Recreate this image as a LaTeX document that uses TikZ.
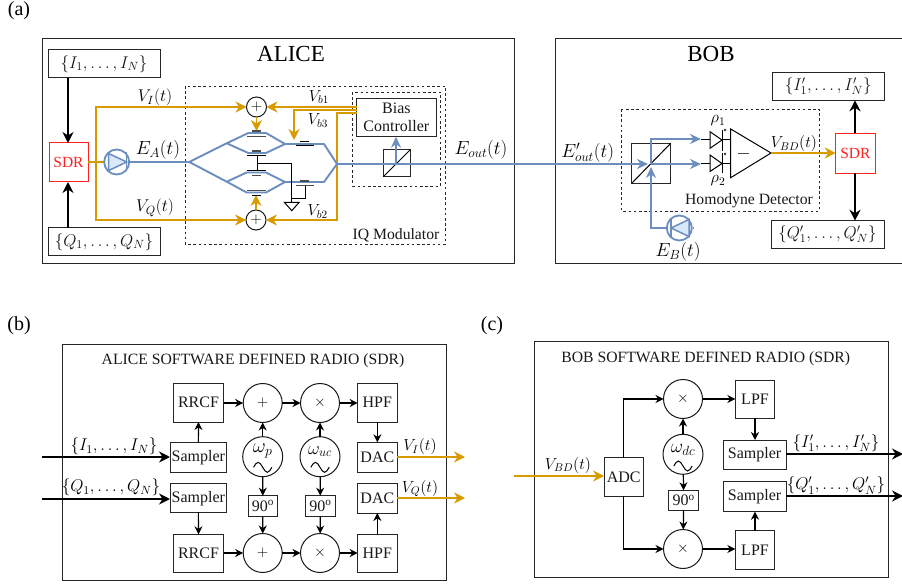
\documentclass[tikz,border=0pt]{standalone}
\usepackage{fix-cm}
\usepackage[no-math]{fontspec}
\setmainfont{Liberation Serif}
\usetikzlibrary{arrows.meta,calc}
\definecolor{org}{HTML}{D79B00}
\definecolor{blu}{HTML}{6C8EBF}
\definecolor{blufill}{HTML}{DAE8FC}
\definecolor{redc}{HTML}{FF2020}
\newcommand\fs[1]{\fontsize{#1}{#1}\selectfont}
\newcommand\boxn[7][]{%
  \pgfmathsetmacro\bxw{#5-#3}\pgfmathsetmacro\bxh{#6-#4}%
  \pgfmathsetmacro\bxx{(#3+#5)/2}\pgfmathsetmacro\bxy{(#4+#6)/2}%
  \node[bxs,minimum width=\bxw pt,minimum height=\bxh pt,#1] (#2) at (\bxx,\bxy) {#7};%
}
\newcommand\sinew[2]{\draw[thin1] (#1-9.2,#2) sin ++(4.6,-5) cos ++(4.6,5) sin ++(4.6,5) cos ++(4.6,-5);}
\newcommand\laserd[3]{% centre x, y, direction (1 right, -1 left)
  \fill[blufill] (#1-8*#3,#2-8.5) -- (#1+10*#3,#2) -- (#1-8*#3,#2+8.5) -- cycle;
  \draw[blu,line width=1.5] (#1-8*#3,#2-8.5) -- (#1+10*#3,#2) -- (#1-8*#3,#2+8.5) -- cycle;
  \draw[blu,line width=1.5] (#1+10*#3,#2-9.5) -- (#1+10*#3,#2+9.5);
}
\tikzset{
  x=1pt,y=-1pt,
  bxs/.style={draw=black!85,line width=1,inner sep=0,outer sep=0,fill=white,text=black!90,font=\fs{16},align=center},
  circ/.style={circle,draw=black!90,line width=1,inner sep=0,outer sep=0,fill=white,font=\fs{15}},
  lab/.style={inner sep=0,outer sep=0,text=black},
  dsh/.style={draw=black!85,line width=.9,dash pattern=on 2.6pt off 2.6pt},
  thin1/.style={draw=black,line width=1},
  arr/.style={draw=black,line width=1.2,-{Stealth[length=8pt,width=8pt]}},
  arrk/.style={draw=black,line width=2,-{Stealth[length=11pt,width=11pt]}},
  oline/.style={draw=org,line width=1.9},
  oarr/.style={oline,-{Stealth[length=11pt,width=11pt]}},
  bline/.style={draw=blu,line width=1.9},
  barr/.style={bline,-{Stealth[length=11pt,width=10pt]}},
  elec/.style={draw=black!70,line width=1.2},
  sdrn/.style={bxs,draw=redc,text=redc,font=\fs{15.5}},
}
\begin{document}
\begin{tikzpicture}
\useasboundingbox (0,0) rectangle (902,585);
\node[lab,font=\fs{20}] (la) at (19,11) {(a)};
\node[lab,font=\fs{20}] (lb) at (19,326) {(b)};
\node[lab,font=\fs{20}] (lc) at (492,326) {(c)};
% ---------- ALICE
\boxn[]{alice}{42}{39}{514}{264}{}
\node[lab,font=\fs{23}] (alicet) at (291,54) {ALICE};
\draw[black!85,line width=1] (903,39) -- (555,39) -- (555,264) -- (903,264);
\coordinate (bobbox) at (555,39);
\node[lab,font=\fs{23}] (bobt) at (711,54) {BOB};
\draw[dsh] (185,86) rectangle (445.7,244);
\draw[dsh] (352.7,92) rectangle (440.7,186);
\node[lab,font=\fs{15.7},text=black!90] (iqt) at (396,235.7) {IQ Modulator};
\boxn{ibox}{48}{50}{160}{78}{\fs{17}$\{I_1,\ldots,I_N\}$}
\boxn{qbox}{48}{228}{160}{256}{\fs{17}$\{Q_1,\ldots,Q_N\}$}
\boxn[sdrn]{sdra}{49}{143}{88}{182}{SDR}
\draw[arrk] (68,78) -- (68,143);
\draw[arrk] (68,228) -- (68,182);
\boxn{bias}{356.7}{98.3}{436}{136.7}{Bias\\[2pt]Controller}
\node[circ,minimum size=20pt] (pu) at (256.5,107) {$+$};
\node[circ,minimum size=20pt] (pd) at (256,220) {$+$};
% orange lines
\coordinate (oj) at (96,162);
\draw[oline] (sdra.east |- oj) -- (102.7,162);
\draw[oarr] (oj) |- (pu.west);
\draw[oarr] (oj) |- (pd.west);
\draw[oarr] (pu.south) -- (256.5,131);
\draw[oarr] (pd.north) -- (256,195);
\coordinate (bb1) at (356.7,107);
\coordinate (bb3) at (356.7,110);
\coordinate (bb2) at (356.7,113);
\coordinate (b3t) at (294,140);
\draw[oarr] (bb1) -- (pu.east);
\draw[oarr] (bb3) -- (294,110) -- (b3t);
\draw[oarr] (bb2) -- (337,113) |- (pd.east);
% waveguides
\coordinate (wl) at (189.3,162);
\coordinate (ws1) at (226.7,143.3);
\coordinate (ws2) at (226.7,181.7);
\coordinate (wm1) at (285,144);
\coordinate (wm2) at (285,182);
\coordinate (wr) at (337,164);
\draw[bline,line join=round] (wl) -- (ws1) -- (248.3,133) -- (266,133) -- (wm1) -- (266,153) -- (248.3,153) -- (ws1);
\draw[bline,line join=round] (wl) -- (ws2) -- (246.7,172.5) -- (266,172.5) -- (wm2) -- (266,192.5) -- (246.7,192.5) -- (ws2);
\draw[bline,line join=round] (wm1) -- (324,144) -- (wr) -- (324,182) -- (wm2);
% electrodes
\draw[elec,line width=1.4] (247,136.5) -- (266,136.5);
\draw[elec] (252,131) -- (261,131);
\draw[elec] (252,151) -- (261,151);
\draw[thin1] (247,156) -- (266,156);
\draw[thin1] (247,171) -- (266,171);
\draw[elec] (252,175.7) -- (261,175.7);
\draw[elec,line width=1.4] (247,190.5) -- (266,190.5);
\draw[thin1] (252,195.5) -- (261,195.5);
\draw[thin1] (300,141.5) -- (309,141.5);
\draw[thin1] (295.7,146) -- (314,146);
\draw[elec] (300,181) -- (309,181);
\draw[elec] (295.7,185.7) -- (314,185.7);
\coordinate (gnd) at (291.8,202.3);
\draw[thin1] (257,156) -- (257,171);
\draw[thin1] (257,164) -- (291.8,164) -- (gnd);
\draw[thin1] (305,185.7) -- (305,198.3) -- (291.8,198.3);
\draw[thin1,fill=white] (284.3,202.3) -- (299.2,202.3) -- (291.8,210.7) -- cycle;
% PBS alice
\boxn[fill=none]{pbsa}{383.3}{150}{410}{176.7}{}
\draw[thin1] (pbsa.south west) -- (pbsa.north east);
\coordinate (aout) at (396,164);
\draw[barr] (aout) -- (bias.south -| aout);
% lasers
\node[circle,draw=blu,line width=1.8,minimum size=25pt,inner sep=0] (lasa) at (116.7,162) {};
\laserd{116.7}{162}{1}
\draw[bline] (102.7,162) -- (lasa.west);
\draw[bline] (lasa.east) -- (wl);
\node[lab,font=\fs{17}] (vi) at (155,97.7) {$V_I(t)$};
\node[lab,font=\fs{17}] (vq) at (155,207.7) {$V_Q(t)$};
\node[lab,font=\fs{19}] (ea) at (158,150) {$E_A(t)$};
\node[lab,font=\fs{16}] (vb1) at (319,97.3) {$V_{b1}$};
\node[lab,font=\fs{16}] (vb3) at (318,120.7) {$V_{b3}$};
\node[lab,font=\fs{16}] (vb2) at (317.7,211.7) {$V_{b2}$};
\node[lab,font=\fs{19}] (eo) at (481,150) {$E_{out}(t)$};
% ---------- BOB
\draw[dsh] (621.3,109) rectangle (819.3,211);
\boxn[fill=none]{pbsb}{631.7}{143.3}{670.7}{183.3}{}
\draw[thin1] (pbsb.south west) -- (pbsb.north east);
\coordinate (bsc) at (651,164);
\draw[bline,shorten >=3pt,-{Stealth[length=11pt,width=10pt]}] (wr) -- (bsc);
\coordinate (d1i) at (701,139);
\coordinate (d2i) at (701,164);
\draw[barr] (bsc) -- (d2i);
\draw[barr] (bsc) |- (d1i);
\node[circle,draw=blu,line width=1.8,minimum size=25pt,inner sep=0] (lasb) at (679.3,228) {};
\laserd{681}{228}{-1}
\draw[bline] (lasb.east) -- ++(1.5,0);
\draw[bline,-{Stealth[length=11pt,width=10pt]}] (lasb.west) -| ($(bsc)+(0,3)$);
% detector
\draw[thin1] (701,140) -- (710,140);
\draw[thin1] (701,163.5) -- (710,163.5);
\draw[thin1] (710,131.7) -- (710,148.3) -- (722,140) -- cycle;
\draw[thin1] (710,155) -- (710,171.5) -- (722,163.5) -- cycle;
\draw[thin1,line width=1.2] (722.3,130) -- (722.3,150.7);
\draw[thin1,line width=1.2] (722.3,153) -- (722.3,173);
\draw[thin1] (722.3,140) -- (730.7,140);
\draw[thin1] (722.3,163.5) -- (730.7,163.5);
\fill[black!80] (725,128.5) -- (726.3,130) -- (725,131.5) -- (723.7,130) -- cycle;
\fill[black!80] (725,152.5) -- (726.3,154) -- (725,155.5) -- (723.7,154) -- cycle;
\draw[thin1,line join=miter] (730.7,129) -- (730.7,177.7) -- (771,153) -- cycle;
\coordinate (ampo) at (771,153);
\draw[black!70,line width=1] (738,153.3) -- (749,153.3);
\boxn[sdrn]{sdrb}{835.7}{133.3}{875}{173.3}{SDR}
\draw[oarr] (ampo) -- (sdrb.west |- ampo);
\boxn{ipb}{772.3}{72.7}{884}{100.3}{\fs{17}$\{I'_1,\ldots,I'_N\}$}
\boxn{qpb}{771}{220.7}{884}{248.3}{\fs{17}$\{Q'_1,\ldots,Q'_N\}$}
\draw[arrk] (855,133.3) -- (855,100.3);
\draw[arrk] (855,173.3) -- (855,220.7);
\node[lab,font=\fs{16.5}] (r1) at (718,121) {$\rho_1$};
\node[lab,font=\fs{16.5}] (r2) at (718,181) {$\rho_2$};
\node[lab,font=\fs{19}] (eob) at (587.7,152.3) {$E'_{out}(t)$};
\node[lab,font=\fs{19}] (eb) at (678,251.7) {$E_B(t)$};
\node[lab,font=\fs{15.7},text=black!90] (hd) at (749,201) {Homodyne Detector};
\node[lab,font=\fs{16}] (vbd) at (794,144) {$V_{BD}(t)$};
% ---------- (b)
\boxn{asdr}{62}{344.3}{446}{580}{}
\node[lab,font=\fs{15.7},text=black!90] (asdrt) at (253,360.7) {ALICE SOFTWARE DEFINED RADIO (SDR)};
\boxn{rt}{173.3}{383.3}{223.7}{422}{RRCF}
\boxn{rb}{173.3}{534.3}{223.7}{572.7}{RRCF}
\boxn{hpft}{357.7}{383.3}{397}{422}{HPF}
\boxn{hpfb}{357.7}{534.3}{397}{572.7}{HPF}
\boxn{st}{170}{442.3}{226.7}{472.3}{Sampler}
\boxn{sb}{170}{483.7}{226.7}{512.7}{Sampler}
\boxn{dact}{357.7}{442.3}{397}{472.3}{DAC}
\boxn{dacb}{357.7}{483.7}{397}{513}{DAC}
\boxn{n1}{248.3}{495.7}{277.3}{516.7}{90\textsuperscript{o}}
\boxn{n2}{305.7}{495.7}{335}{516.7}{90\textsuperscript{o}}
\node[circ,minimum size=39pt] (pt) at (262.7,403) {$+$};
\node[circ,minimum size=39pt] (xt) at (320,403) {$\times$};
\node[circ,minimum size=39pt] (pb) at (262.7,553) {$+$};
\node[circ,minimum size=39pt] (xb) at (320,553) {$\times$};
\node[circ,minimum size=40pt] (op) at (262.7,456.7) {};
\node[circ,minimum size=40pt] (ou) at (320,456.7) {};
\node[lab,font=\fs{20}] (opt) at (262.7,451) {$\omega_p$};
\node[lab,font=\fs{18}] (out) at (320,451.5) {$\omega_{uc}$};
\sinew{262.7}{467.3}
\sinew{320}{467.3}
\draw[arr,line width=1.7] (rt.east |- pt) -- (pt);
\draw[arr,line width=1.7] (pt) -- (xt);
\draw[arr] (xt) -- (hpft.west |- xt);
\draw[arr] (rb.east |- pb) -- (pb);
\draw[arr] (pb) -- (xb);
\draw[arr] (xb) -- (hpfb.west |- xb);
\draw[arr] (st.north) -- (rt.south);
\draw[arr] (sb.south) -- (rb.north);
\draw[arr] (hpft.south) -- (dact.north);
\draw[arr] (hpfb.north) -- (dacb.south);
\draw[arr] (op) -- (pt);
\draw[arr] (ou) -- (xt);
\draw[arr] (op) -- (n1);
\draw[arr] (ou) -- (n2);
\draw[arr] (n1) -- (pb);
\draw[arr] (n2) -- (xb);
\coordinate (ain1) at (42,457);
\coordinate (ain2) at (42,499);
\draw[arrk] (ain1) -- (st.west |- ain1);
\draw[arrk] (ain2) -- (sb.west |- ain2);
\coordinate (aou1) at (465,457);
\coordinate (aou2) at (465,498);
\draw[oarr] (dact.east |- aou1) -- (aou1);
\draw[oarr] (dacb.east |- aou2) -- (aou2);
\node[lab,font=\fs{17}] (li1) at (114,446.7) {$\{I_1,\ldots,I_N\}$};
\node[lab,font=\fs{17}] (lq1) at (111,487.7) {$\{Q_1,\ldots,Q_N\}$};
\node[lab,font=\fs{16}] (lv1) at (420,446.7) {$V_I(t)$};
\node[lab,font=\fs{16}] (lv2) at (420,488.3) {$V_Q(t)$};
% ---------- (c)
\boxn{bsdr}{534}{341.7}{888.3}{577.7}{}
\node[lab,font=\fs{15.7},text=black!90] (bsdrt) at (705.7,359) {BOB SOFTWARE DEFINED RADIO (SDR)};
\boxn{adc}{604}{457.7}{643.3}{496.3}{ADC}
\boxn{lt}{735.3}{380}{774.7}{418.3}{LPF}
\boxn{lb2}{735.3}{530.7}{774.7}{569}{LPF}
\boxn{sbt}{723.3}{440}{786}{469.3}{Sampler}
\boxn{sbb}{723.3}{481.7}{786}{511.7}{Sampler}
\boxn{n3}{668.7}{490.3}{698.7}{510.7}{90\textsuperscript{o}}
\node[circ,minimum size=39pt] (xbt) at (683,399) {$\times$};
\node[circ,minimum size=39pt] (xbb) at (683,549) {$\times$};
\node[circ,minimum size=40pt] (od) at (683,454.3) {};
\node[lab,font=\fs{19}] (odt) at (683,449.5) {$\omega_{dc}$};
\sinew{683}{466}
\draw[arr] (adc.north) |- (xbt.west);
\draw[arr] (adc.south) |- (xbb.west);
\draw[arr] (od) -- (xbt);
\draw[arr] (od) -- (n3);
\draw[arr] (n3) -- (xbb);
\draw[arr] (xbt.east) -- (lt.west |- xbt);
\draw[arr] (xbb.east) -- (lb2.west |- xbb);
\draw[arr,line width=1.7] (lt.south) -- (sbt.north -| lt);
\draw[arr] (lb2.north) -- (sbb.south -| lb2);
\coordinate (bin) at (514,476);
\coordinate (bou1) at (903,454);
\coordinate (bou2) at (903,496);
\draw[oarr] (bin) -- (adc.west |- bin);
\draw[arrk] (sbt.east |- bou1) -- (bou1);
\draw[arrk] (sbb.east |- bou2) -- (bou2);
\node[lab,font=\fs{16}] (lvbd) at (568,465) {$V_{BD}(t)$};
\node[lab,font=\fs{17}] (lip) at (836,443) {$\{I'_1,\ldots,I'_N\}$};
\node[lab,font=\fs{17}] (lqp) at (836,485.7) {$\{Q'_1,\ldots,Q'_N\}$};
\end{tikzpicture}
\end{document}
